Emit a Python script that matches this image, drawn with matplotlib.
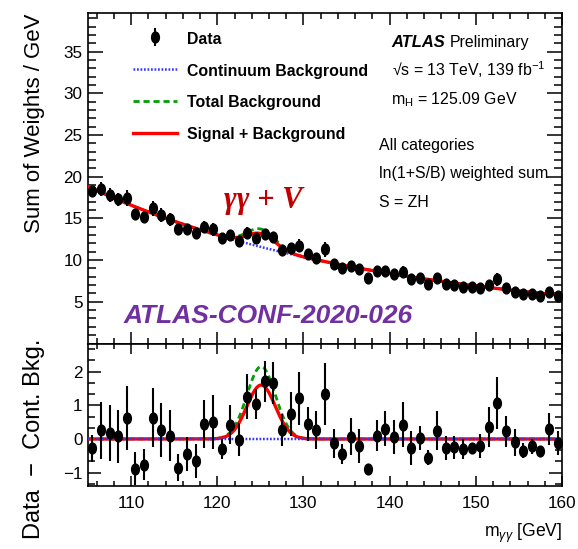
import numpy as np
import matplotlib
matplotlib.use("Agg")
import matplotlib.pyplot as plt
from matplotlib import font_manager as fm
from matplotlib.lines import Line2D
from matplotlib.path import Path
from matplotlib.transforms import Affine2D
from matplotlib.ticker import MultipleLocator

# ---------------------------------------------------------------- data
mass_centres = [105.5, 106.5, 107.5, 108.5, 109.5, 110.5, 111.5, 112.5, 113.5, 114.5,
                115.5, 116.5, 117.5, 118.5, 119.5, 120.5, 121.5, 122.5, 123.5, 124.5,
                125.5, 126.5, 127.5, 128.5, 129.5, 130.5, 131.5, 132.5, 133.5, 134.5,
                135.5, 136.5, 137.5, 138.5, 139.5, 140.5, 141.5, 142.5, 143.5, 144.5,
                145.5, 146.5, 147.5, 148.5, 149.5, 150.5, 151.5, 152.5, 153.5, 154.5,
                155.5, 156.5, 157.5, 158.5, 159.5]

# ln(1+S/B)-weighted sum of events per GeV
data_weighted = [18.3, 18.5, 17.8, 17.3, 17.4, 15.5, 15.2, 16.2, 15.4, 14.9,
                 13.7, 13.7, 13.2, 14.0, 13.7, 12.6, 13.0, 12.3, 13.3, 12.7,
                 13.1, 12.8, 11.2, 11.4, 11.7, 10.7, 10.3, 11.3, 9.5, 9.0,
                 9.3, 8.9, 7.9, 8.7, 8.7, 8.3, 8.6, 7.7, 7.9, 7.1,
                 7.8, 7.1, 7.0, 6.8, 6.8, 6.7, 7.0, 7.7, 6.7, 6.2,
                 5.9, 5.9, 5.7, 6.2, 5.7]

# data minus fitted continuum background
data_minus_bkg = [-0.27, 0.26, 0.18, 0.08, 0.63, -0.89, -0.77, 0.63, 0.28, 0.10,
                  -0.85, -0.45, -0.65, 0.45, 0.50, -0.30, 0.43, -0.02, 1.26, 1.04,
                  1.71, 1.66, 0.27, 0.74, 1.21, 0.45, 0.27, 1.34, -0.13, -0.45,
                  0.07, -0.20, -0.90, 0.10, 0.30, 0.05, 0.43, -0.27, 0.03, -0.55,
                  0.25, -0.27, -0.25, -0.30, -0.27, -0.20, 0.36, 1.07, 0.23, -0.10,
                  -0.35, -0.22, -0.35, 0.30, -0.12]

# statistical uncertainty of the weighted sum
data_err = [0.40, 0.85, 0.82, 0.78, 0.95, 0.49, 0.46, 0.88, 0.80, 0.76,
            0.41, 0.50, 0.50, 0.72, 0.80, 0.30, 0.58, 0.48, 0.67, 0.45,
            0.60, 0.62, 0.47, 0.66, 0.78, 0.50, 0.57, 0.91, 0.43, 0.30,
            0.55, 0.50, 0.15, 0.47, 0.52, 0.50, 0.66, 0.50, 0.37, 0.22,
            0.57, 0.35, 0.33, 0.30, 0.15, 0.36, 0.60, 0.78, 0.46, 0.40,
            0.22, 0.22, 0.12, 0.48, 0.35]

# resonant components (peak height per GeV above the continuum)
higgs_mass = 125.09
signal_peak = 1.60
total_bkg_peak = 2.15
peak_width = 1.65

top_yticks = [5, 10, 15, 20, 25, 30, 35]
bot_yticks = [-1, 0, 1, 2]

# ---------------------------------------------------------------- fonts
def _installed(name):
    try:
        fm.findfont(fm.FontProperties(family=name), fallback_to_default=False)
        return True
    except ValueError:
        return False

if _installed("Liberation Sans Narrow"):
    NARROW, NS = "Liberation Sans Narrow", 1.0
else:
    NARROW, NS = "Liberation Sans", 0.82

plt.rcParams["font.family"] = [NARROW, "DejaVu Sans"]
plt.rcParams["mathtext.fontset"] = "custom"
plt.rcParams["mathtext.rm"] = NARROW
plt.rcParams["mathtext.it"] = NARROW + ":italic"
plt.rcParams["mathtext.bf"] = NARROW + ":bold"

RED = "#ff0000"
GREEN = "#00a000"
BLUE = "#3535ff"
DOTS = (0, (0.7, 0.7))
DASHES = (0, (2.2, 1.4))

# ---------------------------------------------------------------- layout
W, H = 578, 549
fig = plt.figure(figsize=(W / 100, H / 100), dpi=100)


def frect(l, t, r, b):
    return [l / W, 1 - b / H, (r - l) / W, (b - t) / H]


def fxy(px, py):
    return px / W, 1 - py / H


ax_top = fig.add_axes(frect(88, 13.3, 562, 343.5))
ax_bot = fig.add_axes(frect(88, 343.5, 562, 486))

# ---------------------------------------------------------------- curves
x = np.asarray(mass_centres)
y = np.asarray(data_weighted)
res = np.asarray(data_minus_bkg)
err = np.asarray(data_err)

# smooth continuum: exp(poly2) through the per-bin background level
cont_bins = y - res
coef = np.polyfit(x - 105.0, np.log(cont_bins), 2)
xf = np.linspace(105.0, 160.0, 1101)
cont = np.exp(np.polyval(coef, xf - 105.0))
shape = np.exp(-0.5 * ((xf - higgs_mass) / peak_width) ** 2)
sig_plus_bkg = cont + signal_peak * shape
total_bkg = cont + total_bkg_peak * shape

ell = Path.unit_circle().transformed(Affine2D().scale(0.72, 1.0))

# top panel
ax_top.plot(xf, cont, color=BLUE, lw=1.8, ls=DOTS, zorder=2)
ax_top.plot(xf, total_bkg, color=GREEN, lw=2.0, ls=DASHES, zorder=3)
ax_top.plot(xf, sig_plus_bkg, color=RED, lw=2.4, zorder=4)
ax_top.errorbar(x, y, yerr=err, fmt="none", ecolor="black", elinewidth=1.5, zorder=5)
ax_top.plot(x, y, ls="none", marker=ell, ms=7.8, color="black", zorder=6)

# bottom panel
ax_bot.plot(xf, total_bkg - cont, color=GREEN, lw=2.0, ls=DASHES, zorder=2)
ax_bot.plot(xf, sig_plus_bkg - cont, color=RED, lw=2.4, zorder=3)
ax_bot.plot(xf, cont - cont, color=BLUE, lw=1.8, ls=DOTS, zorder=4)
ax_bot.errorbar(x, res, yerr=err, fmt="none", ecolor="black", elinewidth=1.5, zorder=5)
ax_bot.plot(x, res, ls="none", marker=ell, ms=7.8, color="black", zorder=6)

# ---------------------------------------------------------------- axes
for ax in (ax_top, ax_bot):
    ax.set_xlim(105, 160)
    ax.xaxis.set_major_locator(MultipleLocator(10))
    ax.xaxis.set_minor_locator(MultipleLocator(2))
    ax.tick_params(which="both", direction="in", top=True, right=True,
                   width=1.1, labelsize=15 * NS, pad=4)
    for sp in ax.spines.values():
        sp.set_linewidth(1.2)

ax_top.set_ylim(0, 39.6)
ax_top.set_yticks(top_yticks)
ax_top.yaxis.set_minor_locator(MultipleLocator(1))
ax_top.tick_params(axis="y", which="major", length=10.8)
ax_top.tick_params(axis="y", which="minor", length=5.5)
ax_top.tick_params(axis="x", which="major", length=8.4)
ax_top.tick_params(axis="x", which="minor", length=4.2)
ax_top.tick_params(axis="x", labelbottom=False)

ax_bot.set_ylim(-1.395, 2.834)
ax_bot.set_yticks(bot_yticks)
ax_bot.yaxis.set_minor_locator(MultipleLocator(1 / 3))
ax_bot.tick_params(axis="y", which="major", length=9.5)
ax_bot.tick_params(axis="y", which="minor", length=4.8)
ax_bot.tick_params(axis="x", which="major", length=7.0, pad=7)
ax_bot.tick_params(axis="x", which="minor", length=3.5)

# axis titles
fig.text(*fxy(34.5, 13.3), "Sum of Weights / GeV", rotation=90, ha="center", va="top",
         family="Liberation Sans", size=16)
fig.text(*fxy(34.0, 539), "Data  \u2212  Cont. Bkg.", rotation=90, ha="center",
         va="bottom", family=["Liberation Sans", "DejaVu Sans"], size=17)
fig.text(*fxy(562, 537), r"m$_{\gamma\gamma}$ [GeV]", ha="right", va="baseline",
         size=15.5 * NS)

# ---------------------------------------------------------------- legend
tf = fig.transFigure
hx0, hx1 = 132.7, 177.3
fig.add_artist(Line2D([155 / W, 155 / W], [1 - 29 / H, 1 - 45 / H], transform=tf,
                      color="black", lw=1.5))
fig.add_artist(Line2D([155 / W], [1 - 37 / H], transform=tf, ls="none", marker=ell,
                      ms=7.8, color="black"))
fig.add_artist(Line2D([hx0 / W, hx1 / W], [1 - 69 / H] * 2, transform=tf,
                      color=BLUE, lw=1.8, ls=DOTS))
fig.add_artist(Line2D([hx0 / W, hx1 / W], [1 - 100.5 / H] * 2, transform=tf,
                      color=GREEN, lw=2.0, ls=DASHES))
fig.add_artist(Line2D([hx0 / W, hx1 / W], [1 - 132.7 / H] * 2, transform=tf,
                      color=RED, lw=2.4))

legend_entries = [("Data", 44.0), ("Continuum Background", 75.7),
                  ("Total Background", 107.3), ("Signal + Background", 138.7)]
for label, base in legend_entries:
    fig.text(*fxy(187.3, base), label, ha="left", va="baseline",
             weight="bold", size=14 * NS)

# ---------------------------------------------------------------- annotations
fig.text(*fxy(391.7, 46.7), "ATLAS", ha="left", va="baseline", weight="bold",
         style="italic", size=14.5 * NS)
fig.text(*fxy(450.0, 46.7), "Preliminary", ha="left", va="baseline", size=14 * NS)
fig.text(*fxy(391.7, 76.0), "\u221as = 13 TeV, 139 fb$^{-1}$", ha="left",
         va="baseline", size=14 * NS)
fig.text(*fxy(390.7, 104.3), r"m$_{\mathrm{H}}$ = 125.09 GeV", ha="left",
         va="baseline", size=14 * NS)
fig.text(*fxy(379.3, 150.0), "All categories", ha="left", va="baseline", size=14 * NS)
fig.text(*fxy(379.3, 178.3), "ln(1+S/B) weighted sum", ha="left", va="baseline",
         size=14 * NS)
fig.text(*fxy(379.3, 206.7), "S = ZH", ha="left", va="baseline", size=14 * NS)

fig.text(*fxy(224.0, 208.3), "\u03b3\u03b3 + V", ha="left", va="baseline",
         family="Liberation Serif", weight="bold", style="italic", size=22,
         color="#c00000")
fig.text(*fxy(123.3, 322.7), "ATLAS-CONF-2020-026", ha="left", va="baseline",
         family="Liberation Sans", weight="bold", style="italic", size=19,
         color="#7030a0")

fig.savefig("out.png", dpi=100)
